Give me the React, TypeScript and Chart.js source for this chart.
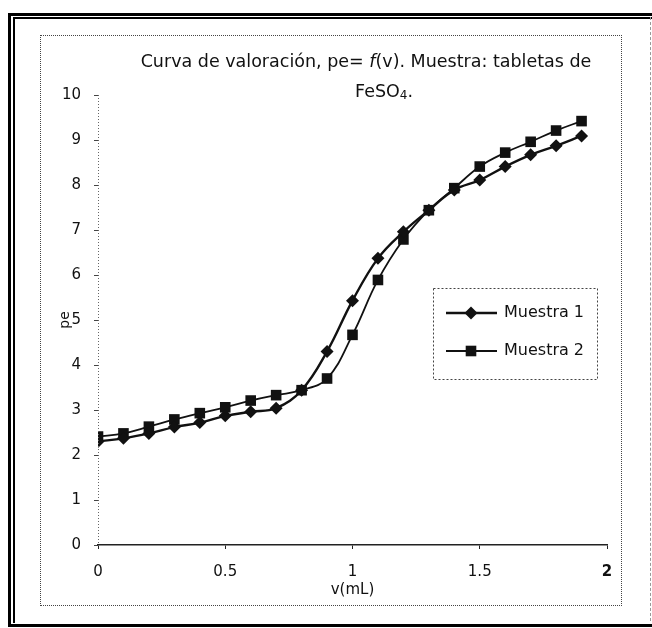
import React, { useEffect, useRef } from 'react';
import { Chart, registerables } from 'chart.js';

Chart.register(...registerables);

// Titration volumes (mL) and measured pe for each sample
const volumes = [0, 0.1, 0.2, 0.3, 0.4, 0.5, 0.6, 0.7, 0.8, 0.9, 1.0, 1.1, 1.2, 1.3, 1.4, 1.5, 1.6, 1.7, 1.8, 1.9];
const muestra1 = [2.3, 2.37, 2.48, 2.62, 2.72, 2.87, 2.96, 3.04, 3.44, 4.3, 5.43, 6.37, 6.96, 7.44, 7.89, 8.11, 8.41, 8.67, 8.87, 9.09];
const muestra2 = [2.41, 2.48, 2.63, 2.79, 2.93, 3.06, 3.21, 3.33, 3.44, 3.7, 4.67, 5.89, 6.79, 7.44, 7.93, 8.41, 8.72, 8.96, 9.21, 9.42];
const seriesNames = ['Muestra 1', 'Muestra 2'];

const xTicks = [0, 0.5, 1, 1.5, 2];
const xTickLabels = ['0', '0.5', '1', '1.5', '2'];
const yTicks = [0, 1, 2, 3, 4, 5, 6, 7, 8, 9, 10];
const yTickLabels = ['0', '1', '2', '3', '4', '5', '6', '7', '8', '9', '10'];

const xAxisTitle = 'v(mL)';
const yAxisTitle = 'pe';

const FONT = '"DejaVu Sans", "Noto Sans", sans-serif';

type Seg = { text: string; font: string; dy?: number };

const titleLine1: Seg[] = [
  { text: 'Curva de valoración, pe= ', font: `17.5px ${FONT}` },
  { text: 'f', font: `italic 17.5px ${FONT}` },
  { text: '(v). Muestra: tabletas de', font: `17.5px ${FONT}` },
];
const titleLine2: Seg[] = [
  { text: 'FeSO', font: `17.5px ${FONT}` },
  { text: '4', font: `12px ${FONT}`, dy: 4 },
  { text: '.', font: `17.5px ${FONT}` },
];

function drawSegments(ctx: CanvasRenderingContext2D, segs: Seg[], cx: number, y: number) {
  let total = 0;
  segs.forEach((s) => {
    ctx.font = s.font;
    total += ctx.measureText(s.text).width;
  });
  let x = cx - total / 2;
  segs.forEach((s) => {
    ctx.font = s.font;
    ctx.fillText(s.text, x, y + (s.dy || 0));
    x += ctx.measureText(s.text).width;
  });
}

const titlePlugin = {
  id: 'twoLineTitle',
  afterDraw(chart: any) {
    const ctx: CanvasRenderingContext2D = chart.ctx;
    ctx.save();
    ctx.fillStyle = '#111';
    ctx.textBaseline = 'middle';
    ctx.textAlign = 'left';
    drawSegments(ctx, titleLine1, 366, 62);
    drawSegments(ctx, titleLine2, 384, 92);
    ctx.restore();
  },
};

// Faint dotted vertical axis line
const yAxisLinePlugin = {
  id: 'dottedYAxis',
  afterDraw(chart: any) {
    const { ctx, chartArea } = chart;
    ctx.save();
    ctx.strokeStyle = '#666';
    ctx.lineWidth = 1;
    ctx.setLineDash([1, 2]);
    ctx.beginPath();
    ctx.moveTo(chartArea.left + 0.5, chartArea.top);
    ctx.lineTo(chartArea.left + 0.5, chartArea.bottom);
    ctx.stroke();
    ctx.restore();
  },
};

function drawMarker(ctx: CanvasRenderingContext2D, style: string, r: number, x: number, y: number) {
  ctx.beginPath();
  if (style === 'rectRot') {
    ctx.moveTo(x, y - r);
    ctx.lineTo(x + r, y);
    ctx.lineTo(x, y + r);
    ctx.lineTo(x - r, y);
  } else {
    const h = r * Math.SQRT1_2;
    ctx.rect(x - h, y - h, 2 * h, 2 * h);
  }
  ctx.closePath();
  ctx.fill();
}

const legendPlugin = {
  id: 'boxedLegend',
  afterDraw(chart: any) {
    const ctx: CanvasRenderingContext2D = chart.ctx;
    ctx.save();
    ctx.strokeStyle = '#444';
    ctx.lineWidth = 1;
    ctx.setLineDash([2, 2]);
    ctx.strokeRect(433.5, 288.5, 164, 91);
    ctx.setLineDash([]);
    chart.data.datasets.forEach((ds: any, i: number) => {
      const y = 313 + i * 38;
      ctx.strokeStyle = ds.borderColor;
      ctx.lineWidth = ds.borderWidth;
      ctx.beginPath();
      ctx.moveTo(446, y);
      ctx.lineTo(497, y);
      ctx.stroke();
      ctx.fillStyle = ds.pointBackgroundColor;
      drawMarker(ctx, ds.pointStyle, ds.pointRadius, 471, y);
      ctx.fillStyle = '#111';
      ctx.font = `16px ${FONT}`;
      ctx.textBaseline = 'middle';
      ctx.textAlign = 'left';
      ctx.fillText(ds.label, 504, y);
    });
    ctx.restore();
  },
};

export default function App() {
  const canvasRef = useRef<HTMLCanvasElement | null>(null);

  useEffect(() => {
    document.body.style.margin = '0';
    const canvas = canvasRef.current;
    if (!canvas) return;

    const chart = new Chart(canvas, {
      type: 'line',
      data: {
        datasets: [
          {
            label: seriesNames[0],
            data: volumes.map((v, i) => ({ x: v, y: muestra1[i] })),
            borderColor: '#111',
            borderWidth: 2.4,
            pointStyle: 'rectRot',
            pointRadius: 6.5,
            pointBackgroundColor: '#111',
            pointBorderColor: '#111',
            pointBorderWidth: 0,
            tension: 0.4,
          },
          {
            label: seriesNames[1],
            data: volumes.map((v, i) => ({ x: v, y: muestra2[i] })),
            borderColor: '#111',
            borderWidth: 1.8,
            pointStyle: 'rect',
            pointRadius: 7.5,
            pointBackgroundColor: '#111',
            pointBorderColor: '#111',
            pointBorderWidth: 0,
            tension: 0.4,
          },
        ],
      },
      options: {
        responsive: false,
        animation: false,
        devicePixelRatio: 1,
        layout: { padding: { left: 40, right: 45, top: 95, bottom: 23 } },
        plugins: {
          legend: { display: false },
          title: { display: false },
          tooltip: { enabled: false },
        },
        scales: {
          x: {
            type: 'linear',
            min: 0,
            max: 2,
            afterBuildTicks: (scale: any) => {
              scale.ticks = xTicks.map((v) => ({ value: v }));
            },
            afterFit: (scale: any) => {
              scale.height = 60;
            },
            ticks: {
              callback: (_v: any, i: number) => xTickLabels[i],
              color: '#111',
              padding: 14,
              maxRotation: 0,
              font: (ctx: any) => ({
                family: FONT,
                size: 15,
                weight: ctx.tick && ctx.tick.value === 2 ? 'bold' : 'normal',
              }),
            },
            grid: { drawOnChartArea: false, drawTicks: true, tickLength: 4, color: '#222' },
            border: { display: true, color: '#222', width: 1.5 },
            title: {
              display: true,
              text: xAxisTitle,
              color: '#111',
              font: { family: FONT, size: 15 },
              padding: { top: 0, bottom: 6 },
            },
          },
          y: {
            type: 'linear',
            min: 0,
            max: 10,
            afterBuildTicks: (scale: any) => {
              scale.ticks = yTicks.map((v) => ({ value: v }));
            },
            afterFit: (scale: any) => {
              scale.width = 58;
            },
            ticks: {
              callback: (_v: any, i: number) => yTickLabels[i],
              color: '#111',
              padding: 13,
              font: { family: FONT, size: 15 },
            },
            grid: { drawOnChartArea: false, drawTicks: true, tickLength: 4, color: '#444' },
            border: { display: false },
            title: {
              display: true,
              text: yAxisTitle,
              color: '#111',
              font: { family: FONT, size: 14 },
              padding: { top: 17, bottom: 0 },
            },
          },
        },
      },
      plugins: [titlePlugin, yAxisLinePlugin, legendPlugin],
    } as any);

    return () => chart.destroy();
  }, []);

  return (
    <div style={{ position: 'relative', width: 652, height: 628, background: '#fff', overflow: 'hidden' }}>
      <canvas
        ref={canvasRef}
        width={652}
        height={628}
        style={{ position: 'absolute', left: 0, top: 0, display: 'block' }}
      />
      {/* outer double frame */}
      <div
        style={{
          position: 'absolute', left: 8, top: 13, width: 652, height: 608,
          borderLeft: '3px solid #000', borderTop: '3px solid #000', borderBottom: '3px solid #000',
          pointerEvents: 'none',
        }}
      />
      <div
        style={{
          position: 'absolute', left: 13, top: 17, width: 652, height: 604,
          borderLeft: '2px solid #000', borderTop: '2px solid #000',
          pointerEvents: 'none',
        }}
      />
      <div
        style={{
          position: 'absolute', left: 650, top: 17, width: 0, height: 604,
          borderLeft: '1px dashed #999', pointerEvents: 'none',
        }}
      />
      {/* dotted chart border */}
      <div
        style={{
          position: 'absolute', left: 40, top: 35, width: 580, height: 569,
          border: '1px dotted #444', pointerEvents: 'none',
        }}
      />
    </div>
  );
}
